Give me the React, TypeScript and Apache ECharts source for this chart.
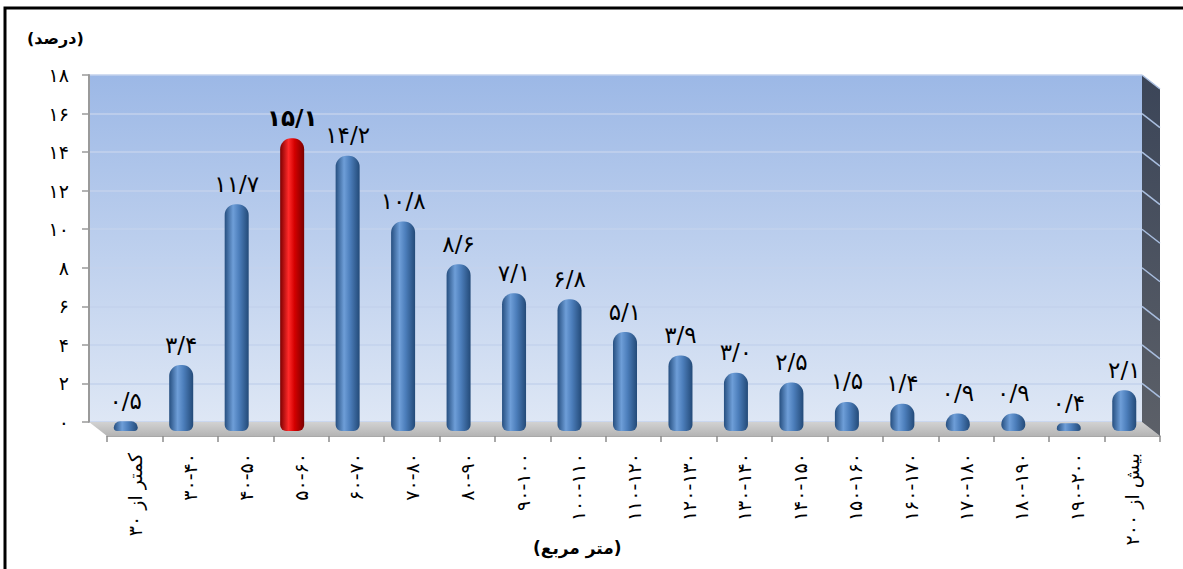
import React, { useEffect, useRef } from "react";
import * as echarts from "echarts";

const categories = [
  "کمتر از ۳۰", "۳۰-۴۰", "۴۰-۵۰", "۵۰-۶۰", "۶۰-۷۰", "۷۰-۸۰", "۸۰-۹۰", "۹۰-۱۰۰",
  "۱۰۰-۱۱۰", "۱۱۰-۱۲۰", "۱۲۰-۱۳۰", "۱۳۰-۱۴۰", "۱۴۰-۱۵۰", "۱۵۰-۱۶۰", "۱۶۰-۱۷۰",
  "۱۷۰-۱۸۰", "۱۸۰-۱۹۰", "۱۹۰-۲۰۰", "بیش از ۲۰۰",
];
const values = [0.5, 3.4, 11.7, 15.1, 14.2, 10.8, 8.6, 7.1, 6.8, 5.1, 3.9, 3.0, 2.5, 1.5, 1.4, 0.9, 0.9, 0.4, 2.1];
const highlightIndex = 3;
const yMin = 0;
const yMax = 18;
const yStep = 2;
const yAxisName = "(درصد)";
const xAxisName = "(متر مربع)";

const FONT = "DejaVu Sans";
const faDigits = "۰۱۲۳۴۵۶۷۸۹";
const fa = (s: string) => s.replace(/\d/g, (d) => faDigits[+d]);
const faDec = (v: number) => fa(v.toFixed(1)).replace(".", "/");

// layout (3D-like wall / floor)
const W = { left: 89, top: 75, width: 1053, height: 347 };
const DX = 18;
const DY = 14;

export default function App() {
  const ref = useRef<HTMLDivElement>(null);
  useEffect(() => {
    if (!ref.current) return;
    const chart = echarts.init(ref.current, undefined, { renderer: "svg" });
    const blue = new echarts.graphic.LinearGradient(0, 0, 1, 0, [
      { offset: 0, color: "#264F80" },
      { offset: 0.35, color: "#6E9ED8" },
      { offset: 0.6, color: "#4C7EBB" },
      { offset: 1, color: "#234A78" },
    ]);
    const red = new echarts.graphic.LinearGradient(0, 0, 1, 0, [
      { offset: 0, color: "#7E0000" },
      { offset: 0.35, color: "#FF2A2A" },
      { offset: 0.6, color: "#D40000" },
      { offset: 1, color: "#7A0000" },
    ]);
    const labelBase = { fontFamily: FONT, fontSize: 23, color: "#000" };
    const option: any = {
      animation: false,
      grid: [
        {
          left: W.left, top: W.top, width: W.width, height: W.height,
          show: true, borderWidth: 0,
          backgroundColor: new echarts.graphic.LinearGradient(0, 0, 0, 1, [
            { offset: 0, color: "#9CB8E6" },
            { offset: 1, color: "#DEE7F5" },
          ]),
        },
        { left: W.left + 9, top: W.top + 7, width: W.width + 1, height: W.height + 2 },
        { left: W.left + DX, top: W.top + DY, width: W.width, height: W.height },
      ],
      xAxis: [
        { gridIndex: 0, type: "category", data: categories, show: false },
        { gridIndex: 1, type: "category", data: categories, show: false },
        {
          gridIndex: 2, type: "category", data: categories, position: "bottom",
          axisLine: { show: true, lineStyle: { color: "#8C8C8C", width: 1.5 } },
          axisTick: { show: true, length: 6, lineStyle: { color: "#8C8C8C", width: 1.5 } },
          axisLabel: {
            interval: 0, rotate: 90, margin: 17, fontFamily: FONT, fontSize: 19, color: "#000",
          },
        },
      ],
      yAxis: [
        {
          gridIndex: 0, type: "value", min: yMin, max: yMax, interval: yStep,
          axisLine: { show: true, lineStyle: { color: "#9A9A9A", width: 2 } },
          axisTick: { show: true, length: 7, lineStyle: { color: "#9A9A9A", width: 1.5 } },
          axisLabel: {
            margin: 20, fontFamily: FONT, fontSize: 19, color: "#000",
            formatter: (v: number) => fa(String(v)),
          },
          splitLine: { show: true, lineStyle: { color: "#C3D2EC", width: 1.5 } },
        },
        { gridIndex: 1, type: "value", min: yMin, max: yMax, interval: yStep, show: false, splitLine: { show: false } },
        { gridIndex: 2, type: "value", min: yMin, max: yMax, interval: yStep, show: false, splitLine: { show: false } },
      ],
      series: [
        {
          type: "bar",
          xAxisIndex: 1,
          yAxisIndex: 1,
          barWidth: 24,
          z: 5,
          data: values.map((v, i) => ({
            value: v,
            itemStyle: { color: i === highlightIndex ? red : blue, borderRadius: [11, 11, 6, 6] },
            label: i === highlightIndex ? { fontWeight: "bold" } : {},
          })),
          label: {
            show: true, position: "top", distance: 9, ...labelBase,
            formatter: (p: any) => faDec(p.value),
          },
        },
      ],
    };
    chart.setOption(option);

    const wallRight = W.left + W.width;
    const wallBottom = W.top + W.height;
    const graphics: any[] = [
      {
        type: "polygon", z: 1,
        shape: { points: [[W.left, wallBottom], [wallRight, wallBottom], [wallRight + DX, wallBottom + DY], [W.left + DX, wallBottom + DY]] },
        style: {
          fill: new echarts.graphic.LinearGradient(0, 0, 0, 1, [
            { offset: 0, color: "#D2D2D2" },
            { offset: 1, color: "#B4B4B4" },
          ]),
        },
      },
      {
        type: "polygon", z: 1,
        shape: { points: [[wallRight, W.top], [wallRight + DX, W.top + DY], [wallRight + DX, wallBottom + DY], [wallRight, wallBottom]] },
        style: {
          fill: new echarts.graphic.LinearGradient(0, 0, 0, 1, [
            { offset: 0, color: "#3B4558" },
            { offset: 1, color: "#5C6068" },
          ]),
        },
      },
    ];
    for (let v = yMin + yStep; v <= yMax; v += yStep) {
      const y = chart.convertToPixel({ yAxisIndex: 0 } as any, v) as number;
      graphics.push({
        type: "line", z: 2,
        shape: { x1: wallRight, y1: y, x2: wallRight + DX, y2: y + DY },
        style: { stroke: "#A9BEDF", lineWidth: 1.5 },
      });
    }
    graphics.push(
      {
        type: "text", left: 27, top: 30,
        style: { text: yAxisName, fontFamily: FONT, fontSize: 16, fontWeight: "bold", fill: "#000" },
      },
      {
        type: "text", left: 533, top: 539,
        style: { text: xAxisName, fontFamily: FONT, fontSize: 17, fontWeight: "bold", fill: "#000" },
      },
      {
        type: "rect", z: 10,
        shape: { x: 5, y: 8, width: 1200, height: 600 },
        style: { fill: "none", stroke: "#000", lineWidth: 3 },
      }
    );
    chart.setOption({ graphic: graphics });
    return () => chart.dispose();
  }, []);
  return (
    <div
      ref={ref}
      style={{ position: "fixed", left: 0, top: 0, width: 1183, height: 569, background: "#fff" }}
    />
  );
}
